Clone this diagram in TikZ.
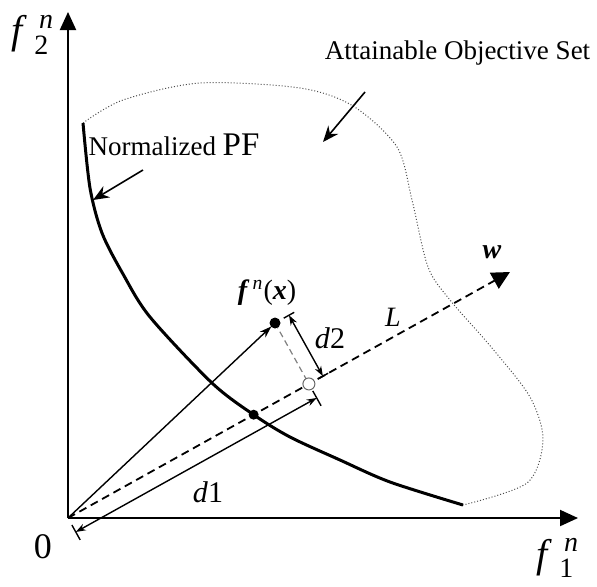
\documentclass[tikz,border=0pt]{standalone}
\usepackage{fontspec}
\usepackage{amsmath}
\setmainfont{Liberation Serif}
\usetikzlibrary{arrows.meta,calc}

\begin{document}
\begin{tikzpicture}[x=0.5pt,y=0.5pt,
	axis/.style={line width=1pt,-{Triangle[length=9pt,width=8pt]}},
	dimline/.style={line width=0.7pt,{Stealth[length=5pt,width=3.5pt]}-{Stealth[length=5pt,width=3.5pt]}},
	dimtick/.style={line width=0.7pt},
	callout/.style={line width=0.8pt,-{Stealth[length=8pt,width=6.5pt]}},
	lbl/.style={inner sep=0pt,font=\fontsize{14}{16}\selectfont}]
	\useasboundingbox (-68,-68) rectangle (529,518);
	\newcommand\dimoff{8pt};
	\coordinate (O) at (0,0);
	\coordinate (W) at (442,246);
	\coordinate (F) at (207,195);
	\coordinate (P) at ($(O)!0.42!(W)$);
	\coordinate (Q) at ($(O)!(F)!(W)$);
	% attainable set and front
	\draw[black!70,densely dotted,line width=0.5pt] plot[smooth] coordinates {(15,395) (55,418) (132,435) (232,430) (285,412) (329,371) (344,318) (360,251) (382,218) (424,170) (462,121) (475,78) (459,35) (395,13)};
	\draw[line width=1.5pt] plot[smooth] coordinates {(15,395) (22,330) (34,285) (55,244) (82,201) (144,135) (185.6,103.3) (222,81) (272,58) (322,36) (395,13)};
	% axes
	\draw[axis] (O) -- (0,506);
	\draw[axis] (O) -- (510,0);
	\draw[line width=0.9pt,dash pattern=on 4pt off 2.5pt,-{Triangle[length=9pt,width=9pt]}] (O) -- (W);
	\draw[line width=0.7pt,-{Stealth[length=6pt,width=4pt]},shorten >=2.5pt] (O) -- (F);
	\draw[black!50,line width=0.6pt,dash pattern=on 3pt off 2pt] (F) -- (Q);
	% d1 and d2
	\draw[dimline] ($(O)!\dimoff!-90:(W)$) -- ($(Q)!\dimoff!90:(O)$);
	\draw[dimtick] ($(O)!4pt!-90:(W)$) -- ($(O)!12.5pt!-90:(W)$);
	\draw[dimtick] ($(Q)!4pt!90:(O)$) -- ($(Q)!12.5pt!90:(O)$);
	\draw[dimline] ($(F)!\dimoff!90:(Q)$) -- ($(Q)!\dimoff!-90:(F)$);
	\draw[dimtick] ($(F)!5pt!90:(Q)$) -- ($(F)!11pt!90:(Q)$);
	\draw[dimtick] ($(Q)!5pt!-90:(F)$) -- ($(Q)!11pt!-90:(F)$);
	\fill (F) circle (2.75pt);
	\fill (P) circle (2.5pt);
	\draw[black!60,fill=white,line width=0.5pt] (Q) circle (3pt);
	% labels
	\node[lbl,font=\fontsize{20}{24}\selectfont] (f2lbl) at (-35,483) {\textit{f}\,$_{\text{2}}^{\,\textit{n}}$};
	\node[lbl,font=\fontsize{20}{24}\selectfont] (f1lbl) at (490,-40) {\textit{f}\,$_{\text{1}}^{\,\textit{n}}$};
	\node[lbl,font=\fontsize{18}{20}\selectfont] (zero) at (-25,-29) {0};
	\node[lbl] (flbl) at (199,225) {\textbf{\textit{f}}\textsuperscript{\,\textit{n}}(\textbf{\textit{x}})};
	\node[lbl] (wlbl) at (424,266) {\textbf{\textit{w}}};
	\node[lbl] (Llbl) at (325,201) {\textit{L}};
	\node[lbl,font=\fontsize{15}{17}\selectfont] (d1lbl) at (140,26) {\textit{d}1};
	\node[lbl,font=\fontsize{15}{17}\selectfont] (d2lbl) at (262,180) {\textit{d}2};
	\node[lbl,font=\fontsize{13.5}{16}\selectfont] (pflbl) at (106,373) {Normalized {\fontsize{16.5}{18}\selectfont PF}};
	\node[lbl,font=\fontsize{13.5}{16}\selectfont] (aoslbl) at (389.5,465) {Attainable Objective Set};
	\coordinate (pfcall) at (75,348);
	\coordinate (pftip) at (25,318);
	\coordinate (aoscall) at (297,426);
	\coordinate (aostip) at (255,376);
	\draw[callout] (pfcall) -- (pftip);
	\draw[callout] (aoscall) -- (aostip);
\end{tikzpicture}
\end{document}
